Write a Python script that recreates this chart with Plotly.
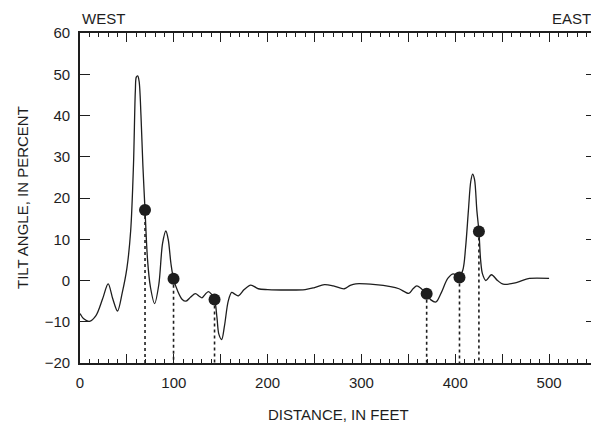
import plotly.graph_objects as go

# Curve: distance (feet) vs tilt angle (percent)
distance = [0, 4, 10, 17, 24, 30, 35, 40, 45, 50, 54, 57, 59, 60, 61.5, 63, 65, 67, 69.3, 72, 75,
            79.5, 84, 88, 91.5, 94, 97, 99.7, 104, 109, 113, 118, 123, 127, 130, 134, 137,
            140, 143.4, 146, 148, 151, 154, 158, 161.7, 165, 169, 175, 182, 190, 200, 220,
            240, 250, 260.5, 270, 281.7, 288, 294, 315, 331, 340, 350.5, 355, 359, 363,
            368.8, 374, 379.4, 385, 392, 398, 403.4, 408, 411, 414, 416.5, 418.5, 420.5, 423,
            425.2, 427, 429, 432.6, 438.6, 445, 451, 465, 479, 500]
tilt = [-8, -9.3, -9.9, -8.5, -4.5, -0.8, -4.5, -7.4, -3, 3, 12, 28, 46, 49.3, 49.6, 48.3, 40, 28, 17.1, 5, -1.5,
        -5.6, -1, 9, 12, 10, 4, 0.4, -2.5, -4.6, -5, -4, -3.2, -3.8, -4.2, -3.2, -2.7,
        -3.3, -4.6, -9, -13, -14.3, -11, -5, -2.9, -3.3, -3.7, -2.2, -1.1, -2.0, -2.2, -2.3,
        -2.2, -1.7, -1.0, -1.3, -2.0, -1.2, -0.8, -1.0, -1.5, -2.0, -3.1, -2.0, -1.3, -1.8,
        -3.2, -4.7, -5.2, -3, 0.5, 1.6, 0.7, 2.5, 8, 17, 24, 25.8, 24.5, 17,
        11.9, 5, 1.6, 0, 1.4, 0, -0.9, -0.5, 0.5, 0.5]

# Marked points
dot_x = [69.3, 99.7, 143.4, 369.5, 404.5, 425.2]
dot_y = [17.1, 0.4, -4.6, -3.2, 0.7, 11.9]

x_tickvals = [0, 50, 100, 150, 200, 250, 300, 350, 400, 450, 500, 550]
x_ticktext = ["0", "", "100", "", "200", "", "300", "", "400", "", "500", ""]
y_tickvals = [-20, -10, 0, 10, 20, 30, 40, 50, 60]

YMIN, YMAX = -20, 60
XMIN, XMAX = 0, 550

ink = "#1e1e1e"
font = "Liberation Sans, Arial, Helvetica, sans-serif"

fig = go.Figure()

# dotted drop lines
vx, vy = [], []
for x, y in zip(dot_x, dot_y):
    vx += [x, x, None]
    vy += [y, YMIN, None]
fig.add_trace(go.Scatter(x=vx, y=vy, mode="lines",
                         line=dict(color=ink, width=1.6, dash="dot"),
                         hoverinfo="skip", showlegend=False))

fig.add_trace(go.Scatter(x=distance, y=tilt, mode="lines",
                         line=dict(color=ink, width=1.3, shape="spline", smoothing=0.9),
                         showlegend=False))

fig.add_trace(go.Scatter(x=dot_x, y=dot_y, mode="markers",
                         marker=dict(color=ink, size=12),
                         showlegend=False))

fig.update_layout(
    width=591, height=417,
    margin=dict(l=72, r=1, t=25, b=62),
    paper_bgcolor="white", plot_bgcolor="white",
    font=dict(family=font, size=15, color=ink),
    showlegend=False,
    xaxis=dict(range=[XMIN, XMAX], tickvals=x_tickvals, ticktext=x_ticktext,
               ticks="inside", ticklen=9, tickwidth=1.2, tickcolor=ink,
               showline=True, linecolor=ink, linewidth=1.6, mirror="ticks",
               showgrid=False, zeroline=False, ticklabelstandoff=5,
               minor=dict(dtick=10, ticks="inside", ticklen=4, tickwidth=1.2,
                          tickcolor=ink, showgrid=False)),
    yaxis=dict(range=[YMIN, YMAX], tickvals=y_tickvals,
               ticks="inside", ticklen=10, tickwidth=1.2, tickcolor=ink,
               showline=True, linecolor=ink, linewidth=1.6, mirror="ticks",
               showgrid=False, zeroline=False, ticklabelstandoff=5),
    annotations=[
        dict(text="WEST", x=0, y=1, xref="paper", yref="paper", xanchor="left",
             yanchor="bottom", yshift=4, showarrow=False, font=dict(size=15)),
        dict(text="EAST", x=1, y=1, xref="paper", yref="paper", xanchor="right",
             yanchor="bottom", yshift=4, xshift=-3, showarrow=False, font=dict(size=15)),
        dict(text="DISTANCE, IN FEET", x=0.5, y=0, xref="paper", yref="paper",
             xanchor="center", yanchor="top", yshift=-41, showarrow=False,
             font=dict(size=15)),
        dict(text="TILT ANGLE, IN PERCENT", x=0, y=0.5, xref="paper", yref="paper",
             xanchor="center", yanchor="middle", xshift=-58, textangle=-90,
             showarrow=False, font=dict(size=15)),
    ],
)

fig.write_html("out.html")
